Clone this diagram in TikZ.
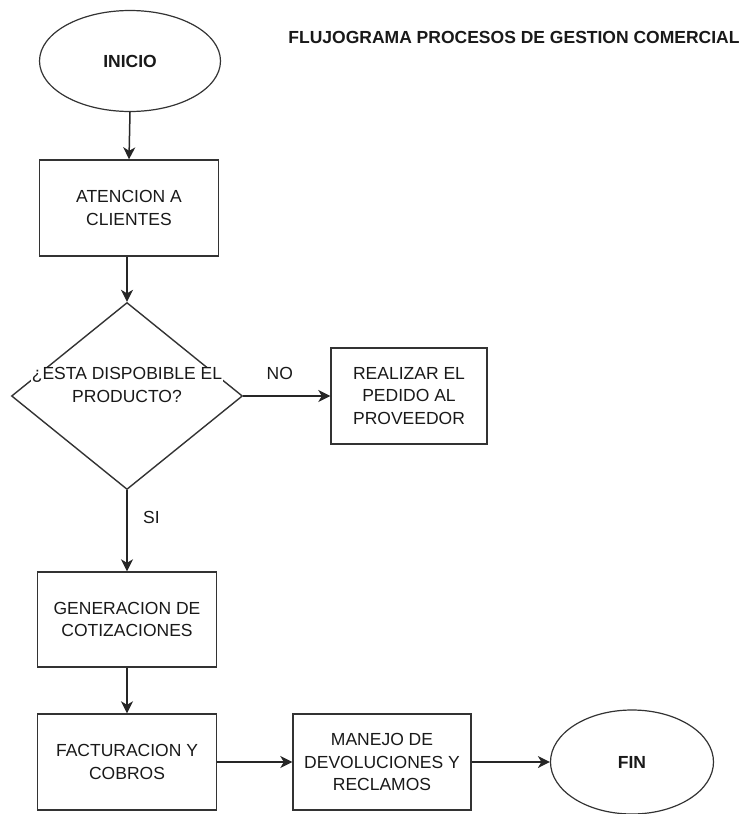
\documentclass[tikz,border=0pt]{standalone}
\usepackage{fontspec}
\setmainfont{Liberation Sans}
\usetikzlibrary{shapes.geometric,arrows.meta}
\begin{document}
\begin{tikzpicture}[x=1pt,y=-1pt,
  every node/.style={font=\fontsize{17.5}{22.5}\selectfont, align=center, text=black!90},
  stepbox/.style={draw=black!80, line width=1.4pt, minimum width=179pt, minimum height=96pt, inner sep=0pt},
  terminal/.style={draw=black!80, line width=1.2pt, ellipse, inner sep=0pt},
  decision/.style={draw=black!80, line width=1.4pt, diamond, inner sep=0pt, minimum width=231pt, minimum height=187pt},
  flow/.style={draw=black!85, line width=1.5pt, -{Stealth[length=12pt,width=12pt,inset=3.5pt]}},
  tag/.style={font=\fontsize{17.5}{22}\selectfont}
]
\useasboundingbox (0,0) rectangle (746,814);

% title
\node[font=\bfseries\fontsize{17.5}{22}\selectfont] (title) at (514,37) {FLUJOGRAMA PROCESOS DE GESTION COMERCIAL};

% start / end
\node[terminal, minimum width=181pt, minimum height=101pt] (inicio) at (130,61) {\bfseries INICIO};
\node[terminal, minimum width=163pt, minimum height=104pt] (fin) at (632,762) {\bfseries FIN};

% process steps
\node[stepbox] (atencion) at (129,208) {ATENCION A\\CLIENTES};
\node[decision] (disp) at (127,396) {};
\node[fill=white, inner sep=1pt] (disptxt) at (127,385) {¿ESTA DISPOBIBLE EL\\PRODUCTO?};
\node[stepbox, minimum width=156pt] (pedido) at (409,396) {REALIZAR EL\\PEDIDO AL\\PROVEEDOR};
\node[stepbox, minimum height=95pt] (cotiz) at (127,619.5) {GENERACION DE\\COTIZACIONES};
\node[stepbox] (fact) at (127,762) {FACTURACION Y\\COBROS};
\node[stepbox, minimum width=178pt] (manejo) at (382,762) {MANEJO DE\\DEVOLUCIONES Y\\RECLAMOS};

% connectors
\draw[flow] (inicio.south) -- (atencion.north);
\draw[flow] (atencion.south -| disp.north) -- (disp.north);
\draw[flow] (disp.east) -- node[tag, above=12pt, pos=0.42] (no) {NO} (pedido.west);
\draw[flow] (disp.south) -- node[tag, right=12pt, pos=0.34] (si) {SI} (cotiz.north -| disp.south);
\draw[flow] (cotiz.south) -- (fact.north);
\draw[flow] (fact.east) -- (manejo.west);
\draw[flow] (manejo.east) -- (fin.west);
\end{tikzpicture}
\end{document}
